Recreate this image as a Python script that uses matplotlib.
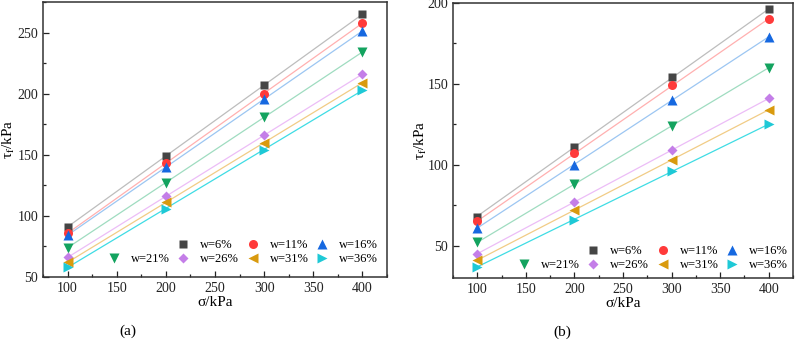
import numpy as np
import matplotlib
matplotlib.use('Agg')
import matplotlib.pyplot as plt
from matplotlib.lines import Line2D
from matplotlib.ticker import MultipleLocator

plt.rcParams['font.family'] = ['Liberation Serif', 'DejaVu Serif']
plt.rcParams['mathtext.fontset'] = 'stix'

sigma = [100, 200, 300, 400]
labels = ['w=6%', 'w=11%', 'w=16%', 'w=21%', 'w=26%', 'w=31%', 'w=36%']

# shear strength, panel (a)
tau_a = [
    [91, 149, 207, 265],
    [86, 143, 200, 258],
    [84, 140, 196, 251],
    [74, 127, 181, 234],
    [66, 116, 166, 216],
    [62, 111, 160, 209],
    [58, 106, 154, 203],
]
# shear strength, panel (b)
tau_b = [
    [68, 111, 154, 196],
    [65, 107, 149, 190],
    [61, 100, 140, 179],
    [52, 88, 124, 160],
    [45, 77, 109, 141],
    [41, 72, 103, 134],
    [37, 66, 96, 125],
]

markers = ['s', 'o', '^', 'v', 'D', '<', '>']
marker_colors = ['#454545', '#ff3a3a', '#1668e0', '#13a35f', '#c47ee8', '#d99a0e', '#1ec9d6']
line_colors = ['#bdbdbd', '#ffb0b0', '#9cc6f2', '#9fdcc0', '#ecbdf7', '#f1cc86', '#3fdce4']
msizes = [5.5, 6.5, 6.5, 6.5, 5.5, 6.5, 6.5]

fig = plt.figure(figsize=(7.96, 3.44), dpi=100)
ax1 = fig.add_axes([43 / 796, (344 - 277) / 344, 344 / 796, 275 / 344])
ax2 = fig.add_axes([453 / 796, (344 - 278) / 344, 340 / 796, 275 / 344])


def draw(ax, data, ylim, ylab_x, leg_anchor):
    x = np.array(sigma)
    for i, vals in enumerate(data):
        k, b = np.polyfit(x, vals, 1)
        ax.plot(x, k * x + b, color=line_colors[i], lw=0.9, zorder=2)
        ax.plot(x, vals, ls='none', marker=markers[i], color=marker_colors[i],
                ms=msizes[i], mec='none', zorder=3, label=labels[i])
    ax.set_xlim(75, 425)
    ax.set_ylim(*ylim)
    ax.xaxis.set_major_locator(MultipleLocator(50))
    ax.xaxis.set_minor_locator(MultipleLocator(25))
    ax.yaxis.set_major_locator(MultipleLocator(50))
    ax.yaxis.set_minor_locator(MultipleLocator(25))
    ax.tick_params(which='both', direction='in', labelsize=10, colors='#222222')
    ax.tick_params(which='major', length=4, width=0.9)
    ax.tick_params(which='minor', length=2, width=0.9)
    for s in ax.spines.values():
        s.set_linewidth(1.1)
        s.set_color('#333333')
    ax.set_xlabel('σ/kPa', fontsize=11, labelpad=1)
    ax.set_ylabel(r'τ$_\mathrm{f}$/kPa', fontsize=11)
    ax.yaxis.set_label_coords(ylab_x, 0.5)

    # legend: blank first slot so the top row starts at the second column
    h, l = ax.get_legend_handles_labels()
    blank = Line2D([], [], ls='none', marker='none')
    order = [blank, h[3], h[0], h[4], h[1], h[5], h[2], h[6]]
    names = ['', l[3], l[0], l[4], l[1], l[5], l[2], l[6]]
    ax.legend(order, names, ncol=4, loc='lower right', frameon=False,
              fontsize=9, handlelength=0.8, handletextpad=0.95,
              columnspacing=0.7, labelspacing=0.12,
              bbox_to_anchor=leg_anchor, borderaxespad=0.0, borderpad=0.0)


draw(ax1, tau_a, (50, 275), (17 - 43) / 344, (1 - 9 / 344, 12 / 275))
draw(ax2, tau_b, (30, 200), (429 - 453) / 340, (1 - 5 / 340, 7 / 275))

fig.text(128 / 796, 1 - 331 / 344, '(a)', ha='center', va='center', fontsize=11)
fig.text(562 / 796, 1 - 332 / 344, '(b)', ha='center', va='center', fontsize=11)

fig.savefig('out.png', dpi=100)
